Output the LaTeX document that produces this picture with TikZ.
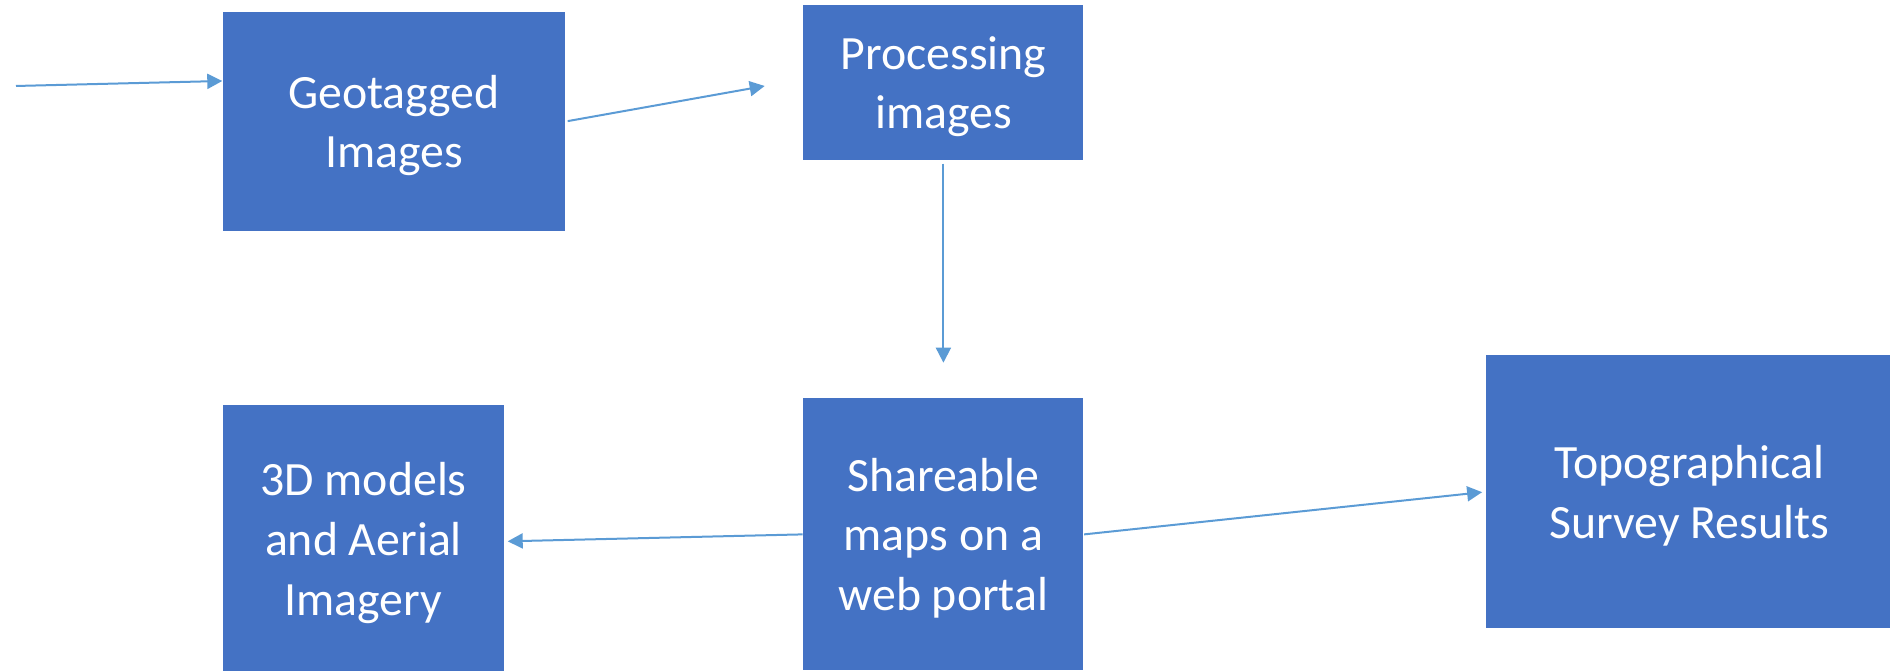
\documentclass[tikz,border=0pt]{standalone}
\usepackage{fontspec}
\setmainfont{Carlito}
\usetikzlibrary{arrows.meta,positioning}
\definecolor{kasseblaa}{HTML}{4472C4}
\definecolor{pilblaa}{HTML}{5B9BD5}
\tikzset{
    %Define standard arrow tip
    >={Triangle[length=0.15cm,width=0.15cm]},
    %Define style for boxes
    kasse/.style={
           rectangle,
           fill=kasseblaa,
           text=white,
           align=center,
           inner sep=0pt,
           text depth=0pt,
           font=\fontsize{13.6}{17}\selectfont},
    % Define arrow style
    linje/.style={
           ->,
           draw=pilblaa,
           line width=0.02cm,}
}

\begin{document}
\begin{tikzpicture}
     \useasboundingbox (0,0) rectangle (18.9,6.71);
     \node[kasse, minimum width=3.42cm, minimum height=2.19cm] (geotagged) at (3.94,5.495) {Geotagged\\Images};
     \node[kasse, minimum width=2.80cm, minimum height=1.55cm, right=2.37cm of geotagged.north east, anchor=north west, yshift=0.07cm] (processing) {Processing\\images};
     \node[kasse, minimum width=2.80cm, minimum height=2.72cm, below=2.37cm of processing] (shareable) {Shareable\\maps on a\\web portal};
     \node[kasse, minimum width=2.81cm, minimum height=2.67cm, left=2.98cm of shareable.south west, anchor=south east, yshift=-0.02cm] (models) {3D models\\and Aerial\\Imagery};
     \node[kasse, minimum width=4.07cm, minimum height=2.73cm, right=4.01cm of shareable, yshift=0.425cm] (survey) {Topographical\\Survey Results};
     % arrows
     \coordinate (start) at (0.16,5.85);
     \draw[linje] (start) -- ([yshift=0.405cm]geotagged.west);
     \draw[linje, shorten <=0.02cm] (geotagged.east) -- ([xshift=-0.38cm,yshift=-0.035cm]processing.west);
     \draw[linje, shorten <=0.03cm, shorten >=0.35cm] (processing.south) -- (shareable.north);
     \draw[linje, shorten >=0.03cm] (shareable.west) -- ([yshift=-0.025cm]models.east);
     \draw[linje, shorten >=0.03cm] (shareable.east) -- (survey.west);
\end{tikzpicture}
\end{document}
